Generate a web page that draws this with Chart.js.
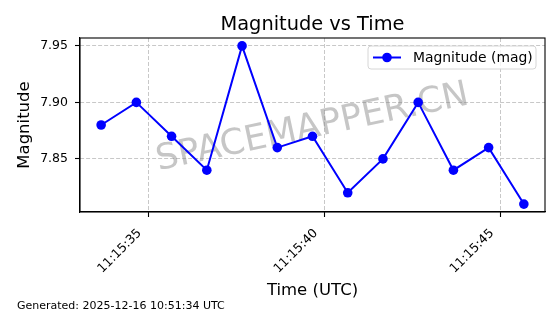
<!DOCTYPE html>
<html>
<head>
<meta charset="utf-8">
<script src="https://cdn.jsdelivr.net/npm/chart.js@4.4.1/dist/chart.umd.min.js"></script>
<style>
  html, body { margin: 0; padding: 0; background: #fff; }
  #wrap { width: 560px; height: 314px; }
</style>
</head>
<body>
<div id="wrap"><canvas id="c" width="560" height="314"></canvas></div>
<script>
// ---- data ----
const times = ['11:15:33.65','11:15:34.65','11:15:35.65','11:15:36.65','11:15:37.65','11:15:38.65',
               '11:15:39.65','11:15:40.65','11:15:41.65','11:15:42.65','11:15:43.65','11:15:44.65','11:15:45.65'];
const magnitudes = [7.88, 7.90, 7.87, 7.84, 7.95, 7.86, 7.87, 7.82, 7.85, 7.90, 7.84, 7.86, 7.81];
const xTickLabels = ['11:15:35', '11:15:40', '11:15:45'];
const yTickValues = [7.85, 7.90, 7.95];
const seriesLabel = 'Magnitude (mag)';
const titleText = 'Magnitude vs Time';
const xTitle = 'Time (UTC)';
const yTitle = 'Magnitude';
const footerText = 'Generated: 2025-12-16 10:51:34 UTC';
const watermarkText = 'SPACEMAPPER.CN';

function toSec(s) {
  const p = s.split(':');
  return (+p[0]) * 3600 + (+p[1]) * 60 + parseFloat(p[2]);
}
function fmt(v) {
  const t = Math.round(v);
  const h = Math.floor(t / 3600), m = Math.floor((t % 3600) / 60), s = t % 60;
  const pad = n => String(n).padStart(2, '0');
  return pad(h) + ':' + pad(m) + ':' + pad(s);
}

const xs = times.map(toSec);
const xMinD = Math.min(...xs), xMaxD = Math.max(...xs);
const xPad = (xMaxD - xMinD) * 0.05;
const yMinD = Math.min(...magnitudes), yMaxD = Math.max(...magnitudes);
const yPad = (yMaxD - yMinD) * 0.05;
const xTickVals = xTickLabels.map(toSec);

const FONT = "'DejaVu Sans', sans-serif";
const BLUE = '#0000ff';

const decor = {
  id: 'decor',
  beforeDatasetsDraw(chart) {
    const ctx = chart.ctx, a = chart.chartArea;
    // watermark (under the line)
    ctx.save();
    ctx.translate((a.left + a.right) / 2, (a.top + a.bottom) / 2 + 3);
    ctx.rotate(-12 * Math.PI / 180);
    ctx.font = '35.5px ' + FONT;
    ctx.fillStyle = 'rgba(128,128,128,0.45)';
    ctx.textAlign = 'center';
    ctx.textBaseline = 'middle';
    ctx.fillText(watermarkText, 0, 0);
    ctx.restore();
  },
  afterDraw(chart) {
    const ctx = chart.ctx, a = chart.chartArea;
    ctx.save();
    // frame
    ctx.strokeStyle = '#000';
    ctx.lineWidth = 1.1;
    ctx.strokeRect(a.left, a.top, a.right - a.left, a.bottom - a.top);
    // title
    ctx.fillStyle = '#000';
    ctx.textAlign = 'center';
    ctx.textBaseline = 'alphabetic';
    ctx.font = '19.4px ' + FONT;
    ctx.fillText(titleText, (a.left + a.right) / 2, 30);
    // x title
    ctx.font = '16.5px ' + FONT;
    ctx.fillText(xTitle, (a.left + a.right) / 2, 295);
    // y title
    ctx.save();
    ctx.translate(29, (a.top + a.bottom) / 2);
    ctx.rotate(-Math.PI / 2);
    ctx.fillText(yTitle, 0, 0);
    ctx.restore();
    // footer
    ctx.textAlign = 'left';
    ctx.font = '11px ' + FONT;
    ctx.fillText(footerText, 17, 309);
    // legend
    const lx = 368, ly = 46, lw = 168, lh = 23, r = 3;
    ctx.beginPath();
    ctx.moveTo(lx + r, ly);
    ctx.arcTo(lx + lw, ly, lx + lw, ly + lh, r);
    ctx.arcTo(lx + lw, ly + lh, lx, ly + lh, r);
    ctx.arcTo(lx, ly + lh, lx, ly, r);
    ctx.arcTo(lx, ly, lx + lw, ly, r);
    ctx.closePath();
    ctx.fillStyle = 'rgba(255,255,255,0.8)';
    ctx.fill();
    ctx.strokeStyle = '#d6d6d6';
    ctx.lineWidth = 1;
    ctx.stroke();
    const my = ly + lh / 2;
    ctx.strokeStyle = BLUE;
    ctx.lineWidth = 2;
    ctx.beginPath();
    ctx.moveTo(373, my);
    ctx.lineTo(401, my);
    ctx.stroke();
    ctx.fillStyle = BLUE;
    ctx.beginPath();
    ctx.arc(387, my, 4.8, 0, Math.PI * 2);
    ctx.fill();
    ctx.fillStyle = '#000';
    ctx.font = '13.9px ' + FONT;
    ctx.textBaseline = 'middle';
    ctx.fillText(chart.data.datasets[0].label, 413, my + 0.5);
    ctx.restore();
  }
};

new Chart(document.getElementById('c'), {
  type: 'line',
  data: {
    datasets: [{
      label: seriesLabel,
      data: xs.map((x, i) => ({ x: x, y: magnitudes[i] })),
      borderColor: BLUE,
      backgroundColor: BLUE,
      borderWidth: 2,
      pointRadius: 4.8,
      pointHoverRadius: 4.8,
      pointBorderWidth: 0,
      tension: 0,
      fill: false
    }]
  },
  options: {
    responsive: false,
    animation: false,
    events: [],
    layout: { padding: { left: 0, top: 38, right: 15, bottom: 0 } },
    plugins: { legend: { display: false }, title: { display: false }, tooltip: { enabled: false } },
    scales: {
      x: {
        type: 'linear',
        min: xMinD - xPad,
        max: xMaxD + xPad,
        afterBuildTicks: s => { s.ticks = xTickVals.map(v => ({ value: v })); },
        afterFit: s => { s.height = 102; },
        ticks: {
          callback: v => fmt(v),
          minRotation: 45, maxRotation: 45,
          autoSkip: false,
          color: '#000',
          padding: 9,
          labelOffset: -9,
          font: { family: FONT, size: 12.5 }
        },
        grid: { color: '#c8c8c8', lineWidth: 1, tickColor: '#000', tickLength: 5, tickWidth: 1.1 },
        border: { display: true, color: '#000', width: 1.1, dash: [4, 2] }
      },
      y: {
        type: 'linear',
        min: yMinD - yPad,
        max: yMaxD + yPad,
        afterBuildTicks: s => { s.ticks = yTickValues.map(v => ({ value: v })); },
        afterFit: s => { s.width = 80; },
        ticks: {
          callback: v => v.toFixed(2),
          color: '#000',
          padding: 7,
          font: { family: FONT, size: 12.5 }
        },
        grid: { color: '#c8c8c8', lineWidth: 1, tickColor: '#000', tickLength: 5, tickWidth: 1.1 },
        border: { display: true, color: '#000', width: 1.1, dash: [4, 2] }
      }
    }
  },
  plugins: [decor]
});
</script>
</body>
</html>
